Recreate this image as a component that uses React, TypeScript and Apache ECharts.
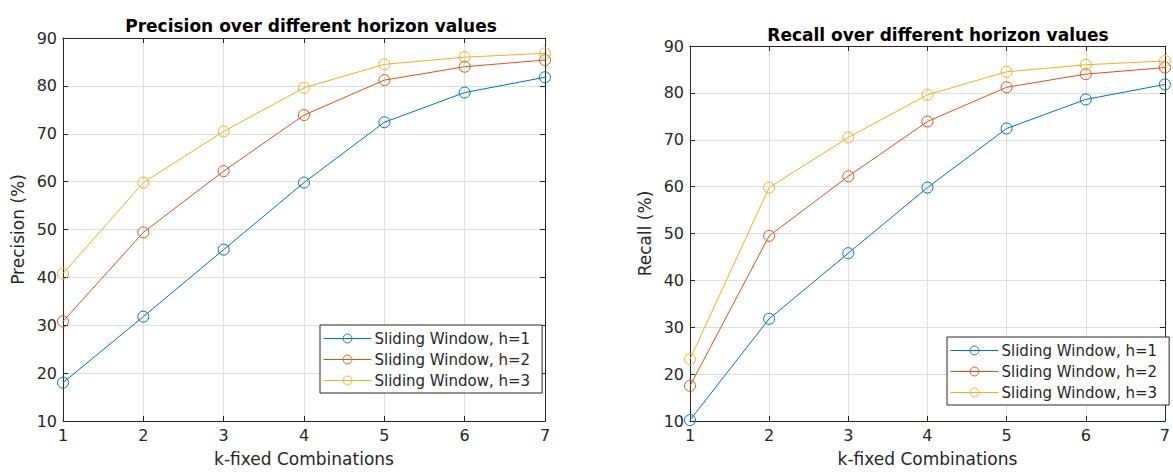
import React, { useEffect, useRef } from "react";
import * as echarts from "echarts";

const kValues = ["1", "2", "3", "4", "5", "6", "7"];
const seriesNames = ["Sliding Window, h=1", "Sliding Window, h=2", "Sliding Window, h=3"];
const precisionH1 = [18.0, 31.8, 45.8, 59.8, 72.4, 78.6, 81.8];
const precisionH2 = [30.8, 49.4, 62.2, 73.9, 81.2, 84.0, 85.4];
const precisionH3 = [40.8, 59.8, 70.5, 79.6, 84.5, 86.0, 86.8];
const recallH1 = [10.2, 31.8, 45.8, 59.8, 72.4, 78.6, 81.8];
const recallH2 = [17.5, 49.5, 62.2, 73.9, 81.2, 84.0, 85.4];
const recallH3 = [23.2, 59.8, 70.5, 79.6, 84.5, 86.0, 86.8];
const colors = ["#0072BD", "#D95319", "#EDB120"];

const FONT = "DejaVu Sans";
const TXT = "#262626";

export default function App() {
  const ref = useRef<HTMLDivElement>(null);
  useEffect(() => {
    const chart = echarts.init(ref.current!, null, { renderer: "svg" });
    const grids = [
      { left: 63, right: 628, top: 38, bottom: 50 },
      { left: 690, right: 5, top: 46, bottom: 50 },
    ];
    const xAxes: any[] = [];
    const yAxes: any[] = [];
    const yNames = ["Precision (%)", "Recall (%)"];
    grids.forEach((g, i) => {
      xAxes.push({
        type: "value", gridIndex: i, min: 1, max: 7, interval: 1, position: "bottom",
        name: "k-fixed Combinations", nameLocation: "middle", nameGap: 29,
        nameTextStyle: { fontFamily: FONT, fontSize: 17, color: TXT },
        axisLine: { show: true, onZero: false, lineStyle: { color: TXT, width: 1 } },
        axisTick: { show: true, inside: true, length: 5, lineStyle: { color: TXT } },
        axisLabel: { fontFamily: FONT, fontSize: 16, color: TXT, margin: 6 },
        splitLine: { show: true, lineStyle: { color: "#dfdfdf", width: 1 } },
      });
      xAxes.push({
        type: "value", gridIndex: i, min: 1, max: 7, interval: 1, position: "top",
        axisLine: { show: true, onZero: false, lineStyle: { color: TXT, width: 1 } },
        axisTick: { show: true, inside: true, length: 5, lineStyle: { color: TXT } },
        axisLabel: { show: false }, splitLine: { show: false },
      });
      yAxes.push({
        type: "value", gridIndex: i, min: 10, max: 90, interval: 10, position: "left",
        name: yNames[i], nameLocation: "middle", nameGap: 37,
        nameTextStyle: { fontFamily: FONT, fontSize: 17, color: TXT },
        axisLine: { show: true, onZero: false, lineStyle: { color: TXT, width: 1 } },
        axisTick: { show: true, inside: true, length: 5, lineStyle: { color: TXT } },
        axisLabel: { fontFamily: FONT, fontSize: 16, color: TXT, margin: 6 },
        splitLine: { show: true, lineStyle: { color: "#dfdfdf", width: 1 } },
      });
      yAxes.push({
        type: "value", gridIndex: i, min: 10, max: 90, interval: 10, position: "right",
        axisLine: { show: true, onZero: false, lineStyle: { color: TXT, width: 1 } },
        axisTick: { show: true, inside: true, length: 5, lineStyle: { color: TXT } },
        axisLabel: { show: false }, splitLine: { show: false },
      });
    });
    const mk = (name: string, vals: number[], c: string, gi: number) => ({
      type: "line", name, xAxisIndex: gi * 2, yAxisIndex: gi * 2,
      data: vals.map((v, j) => [Number(kValues[j]), v]),
      symbol: "circle", symbolSize: 11, showSymbol: true,
      itemStyle: { color: "rgba(255,255,255,0)", borderColor: c, borderWidth: 1 },
      lineStyle: { color: c, width: 1 }, color: c, z: 3,
    });
    const pSets = [precisionH1, precisionH2, precisionH3];
    const rSets = [recallH1, recallH2, recallH3];
    const series: any[] = [];
    pSets.forEach((v, i) => series.push(mk(seriesNames[i], v, colors[i], 0)));
    rSets.forEach((v, i) => series.push(mk(seriesNames[i], v, colors[i], 1)));
    const legendBase = {
      orient: "vertical", itemWidth: 48, itemHeight: 11, itemGap: 6,
      padding: [6, 12, 5, 3], borderColor: TXT, borderWidth: 1, backgroundColor: "#fff",
      textStyle: { fontFamily: FONT, fontSize: 15, color: TXT, padding: [0, 0, 0, -2] },
      itemStyle: { borderWidth: 1 },
      lineStyle: { width: 1 },
      data: seriesNames, selectedMode: false,
    };
    chart.setOption({
      animation: false,
      title: [
        { text: "Precision over different horizon values", left: 306, top: 12, textAlign: "center",
          textStyle: { fontFamily: FONT, fontSize: 17, fontWeight: "bold", color: "#000" } },
        { text: "Recall over different horizon values", left: 933, top: 21, textAlign: "center",
          textStyle: { fontFamily: FONT, fontSize: 17, fontWeight: "bold", color: "#000" } },
      ],
      grid: grids,
      xAxis: xAxes,
      yAxis: yAxes,
      legend: [
        { ...legendBase, left: 320, top: 325 },
        { ...legendBase, left: 947, top: 337 },
      ],
      series,
    });
    return () => chart.dispose();
  }, []);
  return (
    <div ref={ref} style={{ position: "fixed", left: 0, top: 0, width: 1173, height: 472, background: "#fff" }} />
  );
}
